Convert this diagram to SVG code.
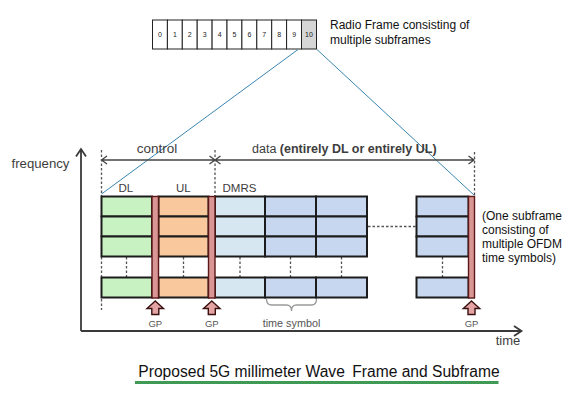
<svg xmlns="http://www.w3.org/2000/svg" width="582" height="402" viewBox="0 0 582 402">
<style>
text{font-family:"Liberation Sans",Arial,sans-serif}
.cell{stroke:#1c1c1c;stroke-width:2}
.dl{fill:#c9f2c2}
.ul{fill:#f9c89c}
.dm{fill:#d7e7f2}
.da{fill:#c7d7ef}
.gp{fill:#da9595;stroke:#5a1818;stroke-width:1.4}
.dash{stroke:#555;stroke-width:1.3;stroke-dasharray:2.5 2;fill:none}
.rf{fill:#fff;stroke:#222;stroke-width:1}
.num{font-size:7px;fill:#222;text-anchor:middle}
.lbl{fill:#3d3d3d}
.gpt{font-size:9.5px;fill:#555;text-anchor:middle}
.ax{stroke:#3a3a3a;stroke-width:1.8;fill:none}
.br{stroke:#444;stroke-width:1.3;fill:none}
.blue{stroke:#3a86b0;stroke-width:1;fill:none}
.arr{fill:#e4a4a4;stroke:#3a1010;stroke-width:1.4}
.note{font-size:12px;fill:#111}
</style>
<rect width="582" height="402" fill="#fff"/>

<g id="radio-frame">
<rect class="rf" x="152.5" y="20" width="14.9" height="29"/>
<rect class="rf" x="167.4" y="20" width="14.9" height="29"/>
<rect class="rf" x="182.3" y="20" width="14.9" height="29"/>
<rect class="rf" x="197.2" y="20" width="14.9" height="29"/>
<rect class="rf" x="212.1" y="20" width="14.9" height="29"/>
<rect class="rf" x="227.0" y="20" width="14.9" height="29"/>
<rect class="rf" x="241.9" y="20" width="14.9" height="29"/>
<rect class="rf" x="256.8" y="20" width="14.9" height="29"/>
<rect class="rf" x="271.7" y="20" width="14.9" height="29"/>
<rect class="rf" x="286.6" y="20" width="14.9" height="29"/>
<rect class="rf" x="301.5" y="20" width="15" height="29" style="fill:#d6d6d6"/>
<text class="num" x="160" y="37">0</text>
<text class="num" x="174.9" y="37">1</text>
<text class="num" x="189.8" y="37">2</text>
<text class="num" x="204.7" y="37">3</text>
<text class="num" x="219.6" y="37">4</text>
<text class="num" x="234.5" y="37">5</text>
<text class="num" x="249.4" y="37">6</text>
<text class="num" x="264.3" y="37">7</text>
<text class="num" x="279.2" y="37">8</text>
<text class="num" x="294.1" y="37">9</text>
<text class="num" x="309" y="37">10</text>
<text x="330" y="29" font-size="12" fill="#111">Radio Frame consisting of</text>
<text x="330" y="44" font-size="12" fill="#111">multiple subframes</text>
</g>

<g id="connectors">
<line class="blue" x1="298" y1="49.5" x2="101.5" y2="194"/>
<line class="blue" x1="317" y1="49.5" x2="474.5" y2="195.5"/>
<path class="ax" d="M81,331 V149.5 M76,156.5 L81,149 L86,156.5"/>
<path class="ax" d="M81,331 H521 M514,326 L521.5,331 L514,336"/>
<path class="br" d="M101.5,160 H215 M107,156 L101.5,160 L107,164 M209.5,156 L215,160 L209.5,164"/>
<path class="br" d="M215,160 H474 M220.5,156 L215,160 L220.5,164 M468.5,156 L474,160 L468.5,164"/>
<path class="dash" d="M101.5,150 V196 M101.5,257 V277 M101.5,299 V310"/>
<path class="dash" d="M215,150 V196"/>
<path class="dash" d="M474.5,152 V195"/>
<path class="dash" d="M126.5,257 V277 M183.5,257 V277 M240,257 V277 M290.5,257 V277 M341.5,257 V277 M442.5,257 V277"/>
<path class="dash" d="M368,226.5 H415.5"/>
<path d="M266.5,299 Q266.5,305 271.5,305 L286.5,305 Q291.5,305 291.5,311 Q291.5,305 296.5,305 L311.5,305 Q316.5,305 316.5,299" fill="none" stroke="#9a9a9a" stroke-width="1.3"/>
</g>

<g id="labels">
<text class="lbl" x="11.5" y="168" font-size="13.2">frequency</text>
<text class="lbl" x="508" y="345" font-size="13" text-anchor="middle">time</text>
<text class="lbl" x="157" y="153" font-size="13.5" text-anchor="middle">control</text>
<text class="lbl" x="252" y="153" font-size="12.5">data <tspan font-weight="bold">(entirely DL or entirely UL)</tspan></text>
<text class="lbl" x="118.5" y="191.5" font-size="11.5">DL</text>
<text class="lbl" x="176" y="191.5" font-size="11.5">UL</text>
<text class="lbl" x="222.5" y="191.5" font-size="11.5">DMRS</text>
<text x="291.5" y="326.5" font-size="10.8" fill="#555" text-anchor="middle">time symbol</text>
</g>

<g id="dl-column">
<rect class="cell dl" x="101.5" y="196.5" width="50.5" height="20"/>
<rect class="cell dl" x="101.5" y="216.5" width="50.5" height="20"/>
<rect class="cell dl" x="101.5" y="236.5" width="50.5" height="20"/>
<rect class="cell dl" x="101.5" y="277.5" width="50.5" height="20"/>
</g>
<g id="ul-column">
<rect class="cell ul" x="158.5" y="196.5" width="50" height="20"/>
<rect class="cell ul" x="158.5" y="216.5" width="50" height="20"/>
<rect class="cell ul" x="158.5" y="236.5" width="50" height="20"/>
<rect class="cell ul" x="158.5" y="277.5" width="50" height="20"/>
</g>
<g id="dmrs-column">
<rect class="cell dm" x="215" y="196.5" width="50" height="20"/>
<rect class="cell dm" x="215" y="216.5" width="50" height="20"/>
<rect class="cell dm" x="215" y="236.5" width="50" height="20"/>
<rect class="cell dm" x="215" y="277.5" width="50" height="20"/>
</g>
<g id="data-column-1">
<rect class="cell da" x="265" y="196.5" width="51" height="20"/>
<rect class="cell da" x="265" y="216.5" width="51" height="20"/>
<rect class="cell da" x="265" y="236.5" width="51" height="20"/>
<rect class="cell da" x="265" y="277.5" width="51" height="20"/>
</g>
<g id="data-column-2">
<rect class="cell da" x="316" y="196.5" width="51" height="20"/>
<rect class="cell da" x="316" y="216.5" width="51" height="20"/>
<rect class="cell da" x="316" y="236.5" width="51" height="20"/>
<rect class="cell da" x="316" y="277.5" width="51" height="20"/>
</g>
<g id="data-column-last">
<rect class="cell da" x="416.5" y="196.5" width="52" height="20"/>
<rect class="cell da" x="416.5" y="216.5" width="52" height="20"/>
<rect class="cell da" x="416.5" y="236.5" width="52" height="20"/>
<rect class="cell da" x="416.5" y="277.5" width="52" height="20"/>
</g>

<g id="gp-1">
<rect class="gp" x="152" y="196.5" width="6.5" height="101.5"/>
<path class="arr" d="M155.3,301 L163.5,308.5 L158.8,308.5 L158.8,314.5 L151.8,314.5 L151.8,308.5 L147,308.5 Z"/>
<text class="gpt" x="155.3" y="326.5">GP</text>
</g>
<g id="gp-2">
<rect class="gp" x="208.5" y="196.5" width="6.5" height="101.5"/>
<path class="arr" d="M211.8,301 L220,308.5 L215.3,308.5 L215.3,314.5 L208.3,314.5 L208.3,308.5 L203.5,308.5 Z"/>
<text class="gpt" x="211.8" y="326.5">GP</text>
</g>
<g id="gp-3">
<rect class="gp" x="468.5" y="196.5" width="6" height="101.5"/>
<path class="arr" d="M471.5,301 L479.7,308.5 L475,308.5 L475,314.5 L468,314.5 L468,308.5 L463.3,308.5 Z"/>
<text class="gpt" x="471.5" y="326.5">GP</text>
</g>

<g id="subframe-note">
<text class="note" x="482" y="219.5">(One subframe</text>
<text class="note" x="482" y="233.5">consisting of</text>
<text class="note" x="482" y="247.5">multiple OFDM</text>
<text class="note" x="482" y="261.5">time symbols)</text>
</g>

<g id="title">
<text x="138.3" y="377" font-size="15.6" fill="#111">Proposed 5G millimeter Wave</text>
<text x="352.3" y="377" font-size="15.6" fill="#111">Frame and Subframe</text>
<line x1="135" y1="382.5" x2="498.5" y2="382.5" stroke="#3f9a55" stroke-width="3"/>
</g>
</svg>
